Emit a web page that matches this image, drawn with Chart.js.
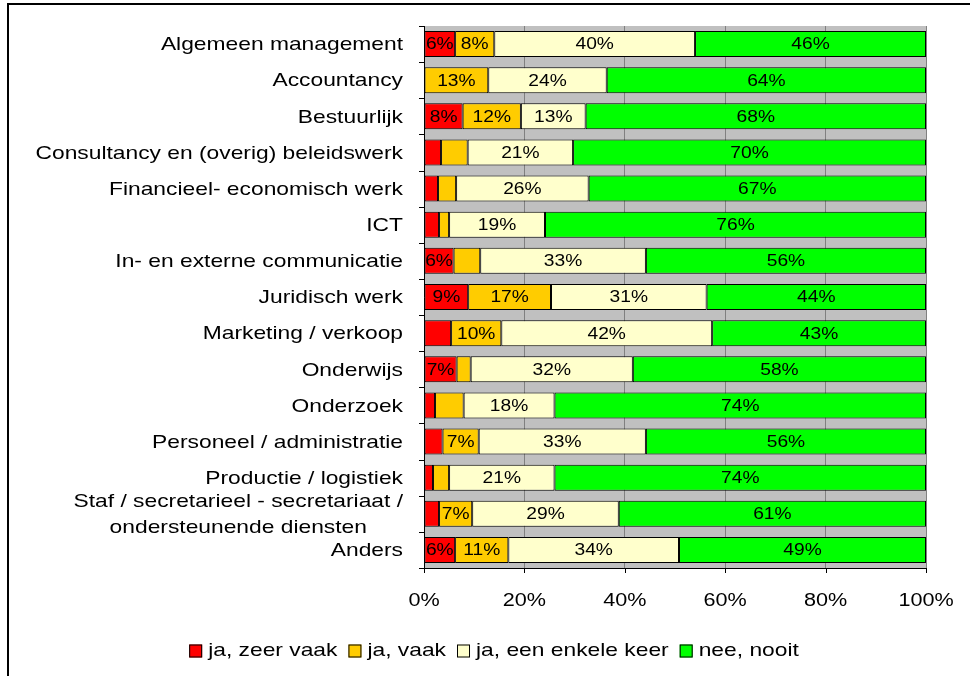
<!DOCTYPE html>
<html>
<head>
<meta charset="utf-8">
<script src="https://cdn.jsdelivr.net/npm/chart.js@4"></script>
<style>
  html, body { margin: 0; padding: 0; background: #fff; }
  canvas { display: block; }
</style>
</head>
<body>
<canvas id="chart" width="970" height="676"></canvas>
<script>
// ---- data ----
const categories = [
    "Algemeen management",
    "Accountancy",
    "Bestuurlijk",
    "Consultancy en (overig) beleidswerk",
    "Financieel- economisch werk",
    "ICT",
    "In- en externe communicatie",
    "Juridisch werk",
    "Marketing / verkoop",
    "Onderwijs",
    "Onderzoek",
    "Personeel / administratie",
    "Productie / logistiek",
    ["Staf / secretarieel - secretariaat /", "ondersteunende diensten"],
    "Anders"
];
const seriesNames = ["ja, zeer vaak", "ja, vaak", "ja, een enkele keer", "nee, nooit"];
const zeerVaak   = [6.2, 0,    7.7,  3.4,  2.8,  3.0,  5.9,  8.8,  5.4,  6.5,  2.2,  3.7,  1.8,  3.0,  6.2];
const vaak       = [7.8, 12.8, 11.6, 5.3,  3.6,  2.0,  5.3,  16.5, 10,   2.8,  5.7,  7.2,  3.2,  6.6,  10.6];
const enkeleKeer = [40,  23.6, 12.9, 21,   26.4, 19.1, 33,   31,   42,   32.3, 18.1, 33.3, 21,   29.2, 34];
const nooit      = [46,  63.6, 67.8, 70.3, 67.2, 75.9, 55.8, 43.7, 42.6, 58.4, 74,   55.8, 74,   61.2, 49.2];
const xTicks = [0, 20, 40, 60, 80, 100];

const colors = ["#FF0000", "#FFCC00", "#FFFFCC", "#00FF00"];
const FONT = 'Arial, "Liberation Sans", sans-serif';
const SX = 1.2; // the original picture is stretched horizontally
const LABEL_MIN = 5.8; // smaller segments carry no label

// draw text stretched horizontally
function wideText(ctx, text, x, y, align) {
    const w = ctx.measureText(text).width * SX;
    let x0 = x;
    if (align === "right") x0 = x - w;
    else if (align === "center") x0 = x - w / 2;
    ctx.save();
    ctx.translate(x0, y);
    ctx.scale(SX, 1);
    ctx.textAlign = "left";
    ctx.fillText(text, 0, 0);
    ctx.restore();
    return w;
}

const decorPlugin = {
    id: "decor",
    beforeDraw(chart) {
        const { ctx, chartArea: a } = chart;
        ctx.save();
        ctx.fillStyle = "#fff";
        ctx.fillRect(0, 0, chart.width, chart.height);
        ctx.fillStyle = "#C0C0C0";
        ctx.fillRect(a.left, a.top, a.right - a.left, a.bottom - a.top);
        ctx.restore();
    },
    afterDatasetsDraw(chart) {
        const ctx = chart.ctx;
        ctx.save();
        ctx.font = "16px " + FONT;
        ctx.fillStyle = "#000";
        ctx.textBaseline = "middle";
        chart.data.datasets.forEach((ds, di) => {
            const meta = chart.getDatasetMeta(di);
            meta.data.forEach((bar, i) => {
                const v = ds.data[i];
                if (v < LABEL_MIN) return;
                wideText(ctx, Math.round(v) + "%", (bar.x + bar.base) / 2, bar.y + 1, "center");
            });
        });
        ctx.restore();
    },
    afterDraw(chart) {
        const { ctx, chartArea: a, scales } = chart;
        const xs = scales.x, ys = scales.y;
        ctx.save();
        ctx.strokeStyle = "#000";
        ctx.lineWidth = 1;

        // tick marks
        ctx.beginPath();
        xTicks.forEach(t => {
            const px = Math.round(xs.getPixelForValue(t)) + 0.5;
            ctx.moveTo(px, a.bottom);
            ctx.lineTo(px, a.bottom + 5);
        });
        const step = (a.bottom - a.top) / categories.length;
        for (let i = 0; i <= categories.length; i++) {
            const py = Math.round(a.top + i * step) + 0.5;
            ctx.moveTo(a.left - 5, py);
            ctx.lineTo(a.left, py);
        }
        ctx.stroke();

        ctx.fillStyle = "#000";
        ctx.textBaseline = "middle";

        // category labels
        ctx.font = "19px " + FONT;
        const right = a.left - 21;
        categories.forEach((c, i) => {
            const cy = ys.getPixelForValue(i);
            if (Array.isArray(c)) {
                const widths = c.map(s => ctx.measureText(s).width * SX);
                const bw = Math.max(...widths);
                const mid = right - bw / 2;
                const lh = 26;
                c.forEach((s, k) => {
                    wideText(ctx, s, mid, cy + (k - (c.length - 1) / 2) * lh + 1, "center");
                });
            } else {
                wideText(ctx, c, right, cy + 1, "right");
            }
        });

        // x tick labels
        ctx.font = "18px " + FONT;
        xTicks.forEach(t => {
            wideText(ctx, t + "%", xs.getPixelForValue(t), 601, "center");
        });

        // legend
        ctx.font = "19px " + FONT;
        const box = 13, gapIn = 6, gapOut = 11;
        let total = 0;
        seriesNames.forEach((s, i) => {
            total += box + gapIn + ctx.measureText(s).width * SX;
            if (i < seriesNames.length - 1) total += gapOut;
        });
        let lx = 494 - total / 2;
        const ly = 651;
        seriesNames.forEach((s, i) => {
            ctx.fillStyle = colors[i];
            ctx.fillRect(lx, ly - box / 2, box, box);
            ctx.strokeStyle = "#000";
            ctx.strokeRect(lx + 0.5, ly - box / 2 + 0.5, box - 1, box - 1);
            lx += box + gapIn;
            ctx.fillStyle = "#000";
            lx += wideText(ctx, s, lx, ly, "left") + gapOut;
        });

        // outer frame (clipped on the right and bottom)
        ctx.fillStyle = "#000";
        ctx.fillRect(7, 3, 2, chart.height - 3);
        ctx.fillRect(7, 3, chart.width - 7, 2);
        ctx.restore();
    }
};

const seriesData = [zeerVaak, vaak, enkeleKeer, nooit];

new Chart(document.getElementById("chart"), {
    type: "bar",
    data: {
        labels: categories,
        datasets: seriesNames.map((name, i) => ({
            label: name,
            data: seriesData[i],
            backgroundColor: colors[i],
            borderColor: "#000",
            borderWidth: 1,
            borderSkipped: false,
            barPercentage: 0.72,
            categoryPercentage: 1
        }))
    },
    options: {
        indexAxis: "y",
        responsive: false,
        animation: false,
        layout: {
            padding: { left: 424, top: 26, right: 44, bottom: 108 }
        },
        plugins: {
            legend: { display: false },
            tooltip: { enabled: false }
        },
        scales: {
            x: {
                stacked: true,
                min: 0,
                max: 100,
                ticks: { display: false, stepSize: 20 },
                grid: { color: "#808080", drawTicks: false },
                border: { color: "#000", width: 1 }
            },
            y: {
                stacked: true,
                ticks: { display: false },
                grid: { display: false, drawTicks: false },
                border: { color: "#000", width: 1 }
            }
        }
    },
    plugins: [decorPlugin]
});
</script>
</body>
</html>
